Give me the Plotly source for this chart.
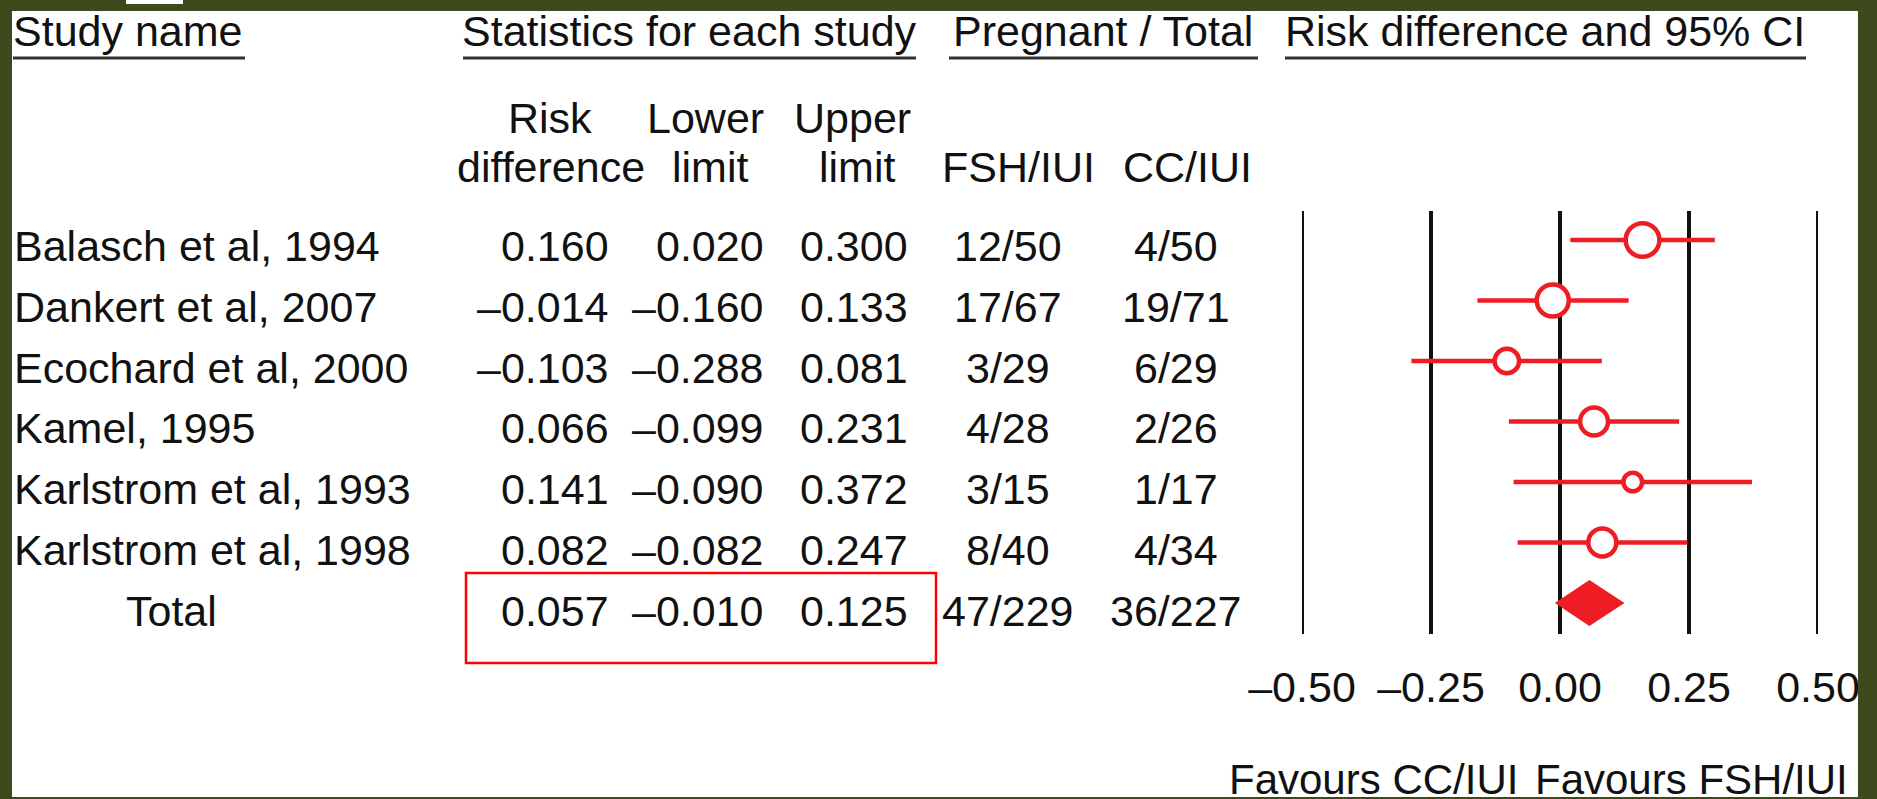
import plotly.graph_objects as go

W, H = 1877, 799

# ---------------- data ----------------
studies = ["Balasch et al, 1994", "Dankert et al, 2007", "Ecochard et al, 2000",
           "Kamel, 1995", "Karlstrom et al, 1993", "Karlstrom et al, 1998"]
risk_diff = [0.160, -0.014, -0.103, 0.066, 0.141, 0.082]
lower_limit = [0.020, -0.160, -0.288, -0.099, -0.090, -0.082]
upper_limit = [0.300, 0.133, 0.081, 0.231, 0.372, 0.247]
fsh_iui = ["12/50", "17/67", "3/29", "4/28", "3/15", "8/40"]
cc_iui = ["4/50", "19/71", "6/29", "2/26", "1/17", "4/34"]
total_name = "Total"
total_rd = 0.057
total_lower = -0.010
total_upper = 0.125
total_fsh = "47/229"
total_cc = "36/227"
tick_vals = [-0.50, -0.25, 0.00, 0.25, 0.50]

# ---------------- styling ----------------
FONT = "Liberation Sans, Arial, Helvetica, sans-serif"
FS = 43
TXT = "#111111"
RED = "#ee1d24"
GREEN = "#3d4a1c"


def px(x):
    return x / W


def py(y):
    return 1 - y / H


def fmt(v, nd=3):
    return f"{v:.{nd}f}".replace("-", "\u2013")


fig = go.Figure()

# CI lines
xs, ys = [], []
for i, (lo, hi) in enumerate(zip(lower_limit, upper_limit)):
    xs += [lo, hi, None]
    ys += [i, i, None]
fig.add_trace(go.Scatter(x=xs, y=ys, mode="lines",
                         line=dict(color=RED, width=4.5), hoverinfo="skip"))

# point estimates (size ~ inverse CI width, i.e. study weight)
sizes = [10.7 / (hi - lo) - 4.5 for lo, hi in zip(lower_limit, upper_limit)]
fig.add_trace(go.Scatter(x=risk_diff, y=list(range(len(studies))), mode="markers",
                         marker=dict(symbol="circle", size=sizes, color="white",
                                     opacity=1,
                                     line=dict(color=RED, width=4.5)),
                         hoverinfo="skip"))

# summary diamond
ti = len(studies)
h = 0.38
fig.add_trace(go.Scatter(x=[total_lower, total_rd, total_upper, total_rd, total_lower],
                         y=[ti, ti - h, ti, ti + h, ti],
                         mode="lines", fill="toself", fillcolor=RED,
                         line=dict(color=RED, width=0), hoverinfo="skip"))

shapes = []
# vertical reference lines
for t in tick_vals:
    shapes.append(dict(type="line", xref="x", yref="paper", x0=t, x1=t,
                       y0=py(634), y1=py(211), line=dict(color="#111111", width=4),
                       layer="below"))

annotations = []


def add_text(text, x, y, anchor="left", size=FS):
    annotations.append(dict(text=text, x=px(x), y=py(y), xref="paper", yref="paper",
                            xanchor=anchor, yanchor="middle", showarrow=False,
                            font=dict(family=FONT, size=size, color=TXT)))


# headers
add_text("Study name", 11, 31)
add_text("Statistics for each study", 689, 31, "center")
add_text("Pregnant / Total", 1103, 31, "center")
add_text("Risk difference and 95% CI", 1545, 31, "center")
for x0, x1 in [(13, 245), (463, 916), (949, 1258), (1285, 1806)]:
    shapes.append(dict(type="line", xref="paper", yref="paper", x0=px(x0), x1=px(x1),
                       y0=py(58), y1=py(58), line=dict(color="#333333", width=3)))

add_text("Risk", 550, 118, "center")
add_text("difference", 551, 167, "center")
add_text("Lower", 705, 118, "center")
add_text("limit", 710, 167, "center")
add_text("Upper", 852, 118, "center")
add_text("limit", 857, 167, "center")
add_text("FSH/IUI", 1018, 167, "center")
add_text("CC/IUI", 1187, 167, "center")

# rows
for i in range(len(studies) + 1):
    yc = 246 + 60.8 * i
    if i < len(studies):
        add_text(studies[i], 12, yc)
        vals = (risk_diff[i], lower_limit[i], upper_limit[i], fsh_iui[i], cc_iui[i])
    else:
        add_text(total_name, 171, yc, "center")
        vals = (total_rd, total_lower, total_upper, total_fsh, total_cc)
    add_text(fmt(vals[0]), 611, yc, "right")
    add_text(fmt(vals[1]), 766, yc, "right")
    add_text(fmt(vals[2]), 910, yc, "right")
    add_text(vals[3], 1008, yc, "center")
    add_text(vals[4], 1176, yc, "center")

# favours labels
add_text("Favours CC/IUI", 1520, 779, "right", 42)
add_text("Favours FSH/IUI", 1533, 779, "left", 42)

# highlight box around total statistics
shapes.append(dict(type="rect", xref="paper", yref="paper", x0=px(466), x1=px(936),
                   y0=py(663), y1=py(573), line=dict(color="#ff0000", width=2.5)))

# slide frame
for (x0, y0, x1, y1) in [(0, 0, 12, H), (0, 0, W, 11), (1858, 0, W, H), (0, 797, W, H)]:
    shapes.append(dict(type="rect", xref="paper", yref="paper", x0=px(x0), x1=px(x1),
                       y0=py(y1), y1=py(y0), fillcolor=GREEN, line=dict(width=0),
                       layer="above"))
shapes.append(dict(type="rect", xref="paper", yref="paper", x0=px(126), x1=px(183),
                   y0=py(4), y1=py(0), fillcolor="white", line=dict(width=0),
                   layer="above"))

fig.update_layout(
    width=W, height=H, autosize=False,
    margin=dict(l=0, r=0, t=0, b=0, pad=0, autoexpand=False),
    paper_bgcolor="white", plot_bgcolor="white",
    showlegend=False,
    shapes=shapes, annotations=annotations,
    xaxis=dict(domain=[px(1302), px(1818)], range=[-0.5, 0.5],
               tickvals=tick_vals, ticktext=[fmt(t, 2) for t in tick_vals],
               tickfont=dict(family=FONT, size=FS, color=TXT),
               showgrid=False, zeroline=False, showline=False, ticks="",
               ticklabelstandoff=24, automargin=False, fixedrange=True),
    yaxis=dict(domain=[py(634), py(211)],
               range=[(634 - 240) / 60.5, (211 - 240) / 60.5],
               visible=False, showgrid=False, zeroline=False, automargin=False,
               fixedrange=True),
)

fig.write_html("out.html", config={"responsive": False, "displayModeBar": False},
               post_script="document.body.style.margin='0';"
                           "document.body.style.overflow='hidden';")
